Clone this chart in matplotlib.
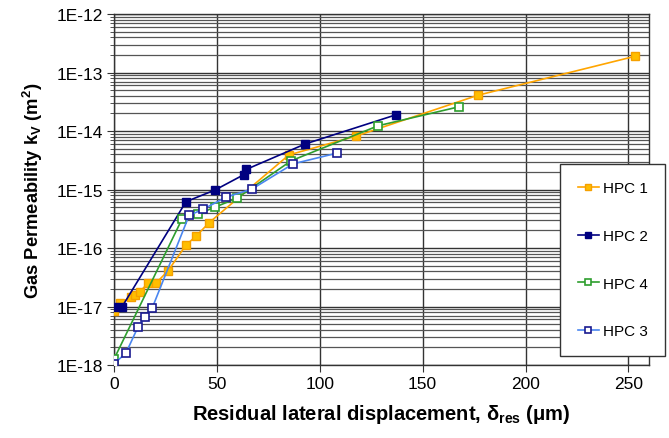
import numpy as np
import matplotlib
matplotlib.use('Agg')
import matplotlib.pyplot as plt
import matplotlib.ticker as mticker

plt.rcParams['font.family'] = ['Liberation Sans', 'DejaVu Sans']
plt.rcParams['mathtext.fontset'] = 'custom'
plt.rcParams['mathtext.rm'] = 'Liberation Sans'
plt.rcParams['mathtext.bf'] = 'Liberation Sans:bold'

# residual lateral displacement (um) vs gas permeability (m2)
hpc1_x = [0, 3, 8.3, 10.2, 12.6, 16.5, 20.4, 26.3, 35, 39.9, 46.2, 85, 117.7, 177, 253.4]
hpc1_y = [8.3e-18, 1.15e-17, 1.45e-17, 1.6e-17, 1.8e-17, 2.5e-17, 2.5e-17, 4.1e-17,
          1.12e-16, 1.6e-16, 2.7e-16, 3.9e-15, 8.2e-15, 4.1e-14, 1.9e-13]

hpc2_x = [0, 4, 35, 49.1, 63.2, 64.2, 92.9, 137.2]
hpc2_y = [1.0e-17, 1.0e-17, 6.2e-16, 9.8e-16, 1.8e-15, 2.2e-15, 6.0e-15, 1.9e-14]

hpc4_x = [0, 33.1, 40.9, 49.1, 59.8, 86.1, 128.4, 167.8]
hpc4_y = [1.26e-18, 3.15e-16, 3.8e-16, 5.0e-16, 7.1e-16, 3.1e-15, 1.23e-14, 2.6e-14]

hpc3_x = [0, 5.8, 11.7, 15.1, 18.5, 36.5, 43.3, 54.5, 67.1, 87.1, 108.5]
hpc3_y = [1.05e-18, 1.6e-18, 4.5e-18, 6.6e-18, 9.3e-18, 3.6e-16, 4.6e-16, 7.4e-16,
          1.02e-15, 2.75e-15, 4.2e-15]

y_ticks = [1e-18, 1e-17, 1e-16, 1e-15, 1e-14, 1e-13, 1e-12]
y_labels = ['1E-18', '1E-17', '1E-16', '1E-15', '1E-14', '1E-13', '1E-12']
x_ticks = [0, 50, 100, 150, 200, 250]

fig = plt.figure(figsize=(6.69, 4.39), dpi=100)
ax = fig.add_axes([114/669, 1 - 366/439, (649 - 114)/669, (366 - 15)/439])

ax.plot(hpc1_x, hpc1_y, '-s', color='#FFA500', lw=1.2, ms=5.5,
        mfc='#FFBE00', mec='#F5A000', label='HPC 1', zorder=3)
ax.plot(hpc2_x, hpc2_y, '-s', color='#000080', lw=1.2, ms=5.5,
        mfc='#000080', mec='#000080', label='HPC 2', zorder=3)
ax.plot(hpc4_x, hpc4_y, '-s', color='#2E9E2E', lw=1.2, ms=5.5,
        mfc='white', mec='#2E9E2E', mew=1.2, label='HPC 4', zorder=3)
ax.plot(hpc3_x, hpc3_y, '-s', color='#4A86F0', lw=1.2, ms=5.5,
        mfc='white', mec='#1A1A90', mew=1.2, label='HPC 3', zorder=3)

ax.set_yscale('log')
ax.set_xlim(0, 260)
ax.set_ylim(1e-18, 1e-12)
ax.set_xticks(x_ticks)
ax.set_yticks(y_ticks, y_labels)
ax.yaxis.set_minor_locator(mticker.LogLocator(base=10, subs=np.arange(2, 10), numticks=20))
ax.yaxis.set_minor_formatter(mticker.NullFormatter())

ax.grid(True, which='major', axis='both', color='#333333', lw=1.0, zorder=1)
ax.grid(True, which='minor', axis='y', color='#555555', lw=0.9, zorder=1)
ax.set_axisbelow(True)
for s in ax.spines.values():
    s.set_color('#333333')
    s.set_linewidth(1.0)

ax.tick_params(axis='both', which='major', labelsize=12.5, length=5, direction='out',
               color='#333333', pad=3)
ax.tick_params(axis='y', which='minor', length=3, color='#333333')

ax.set_xlabel(r'Residual lateral displacement, δ$_{\mathbf{res}}$ (μm)',
              fontsize=14.5, fontweight='bold', labelpad=8)
ax.set_ylabel(r'Gas Permeability k$_{\mathbf{V}}$ (m$^{\mathbf{2}}$)',
              fontsize=13.2, fontweight='bold', labelpad=8)

leg = ax.legend(loc='upper left', bbox_to_anchor=(0.834, 0.573), borderaxespad=0,
                fontsize=11, frameon=True, fancybox=False, framealpha=1,
                edgecolor='#333333', labelspacing=2.2, handlelength=1.4,
                handletextpad=0.25, borderpad=1.15, markerscale=0.75)
leg.get_frame().set_linewidth(1.0)

plt.savefig('out.png', dpi=100)
